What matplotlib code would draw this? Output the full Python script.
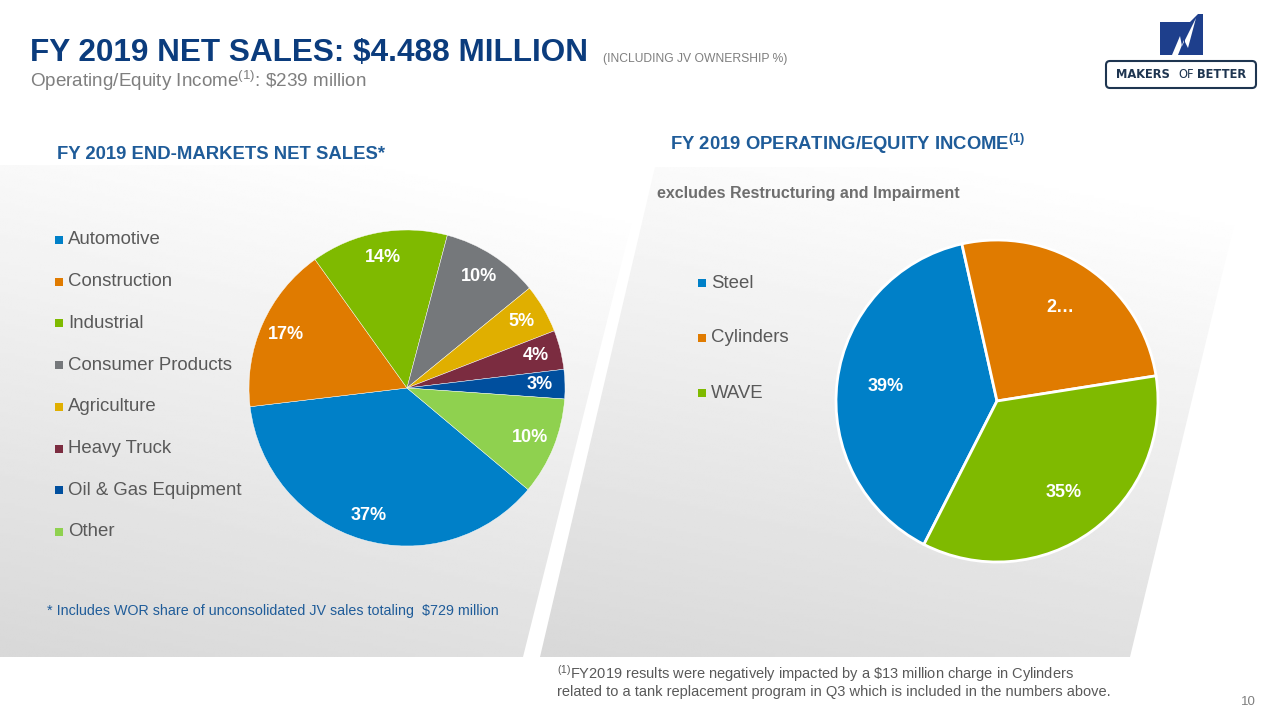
import numpy as np
import matplotlib
matplotlib.use("Agg")
import matplotlib.pyplot as plt
from matplotlib.patches import Polygon, Rectangle, FancyBboxPatch

plt.rcParams["font.family"] = ["Liberation Sans", "DejaVu Sans"]
plt.rcParams["mathtext.default"] = "regular"

# data
market_labels = ["Automotive", "Construction", "Industrial", "Consumer Products",
                 "Agriculture", "Heavy Truck", "Oil & Gas Equipment", "Other"]
market_share = [37, 17, 14, 10, 5, 4, 3, 10]
market_colors = ["#0080C8", "#E07B00", "#7FBA00", "#75787B",
                 "#E0AF00", "#7B2C40", "#004F9E", "#8FD14F"]

income_labels = ["Steel", "Cylinders", "WAVE"]
income_share = [39, 26, 35]
income_text = ["39%", "2…", "35%"]
income_colors = ["#0080C8", "#E07B00", "#7FBA00"]

NAVY = "#0B3C7D"
HEAD = "#1F5C99"
GRAY = "#7F7F7F"
LEG = "#595959"

W, H = 1280, 720
fig = plt.figure(figsize=(12.8, 7.2), dpi=100)
bg = fig.add_axes([0, 0, 1, 1])
bg.set_xlim(0, W)
bg.set_ylim(H, 0)
bg.axis("off")


def panel(pts):
    # gradient: white at top-right, light gray towards the bottom-left
    yy, xx = np.mgrid[0:1:200j, 0:1:200j]
    t = np.clip(0.85 * yy + 0.25 * (1 - xx) - 0.08, 0, 1)
    img = 1.0 - 0.15 * t
    xs = [p[0] for p in pts]
    ys = [p[1] for p in pts]
    im = bg.imshow(img, cmap="gray", vmin=0, vmax=1,
                   extent=[min(xs), max(xs), max(ys), min(ys)],
                   aspect="auto", zorder=0, interpolation="bilinear")
    poly = Polygon(pts, closed=True, facecolor="none", edgecolor="none")
    bg.add_patch(poly)
    im.set_clip_path(poly)


panel([(0, 165), (646, 165), (523, 657), (0, 657)])
panel([(655, 167), (1248, 167), (1130, 657), (540, 657)])
bg.set_xlim(0, W)
bg.set_ylim(H, 0)

# titles
bg.text(30, 61, "FY 2019 NET SALES: $4.488 MILLION", fontsize=22.7,
        fontweight="bold", color=NAVY, va="baseline")
bg.text(603, 62, "(INCLUDING JV OWNERSHIP %)", fontsize=8.7,
        color=GRAY, va="baseline")
bg.text(30, 87, r"Operating/Equity Income$^{(1)}$: \$239 million",
        fontsize=13.6, color=GRAY, va="baseline")

bg.text(57, 159, "FY 2019 END-MARKETS NET SALES*", fontsize=13.3,
        fontweight="bold", color=HEAD, va="baseline")
bg.text(670, 150, r"FY 2019 OPERATING/EQUITY INCOME$^{(1)}$",
        fontsize=13.3, fontweight="bold", color=HEAD, va="baseline")
bg.text(657, 198, "excludes Restructuring and Impairment", fontsize=11.5,
        fontweight="bold", color="#6E6E6E", va="baseline")

bg.text(47, 615, "* Includes WOR share of unconsolidated JV sales totaling  $729 million",
        fontsize=10.3, color=HEAD, va="baseline")
bg.text(557, 679, r"$^{(1)}$FY2019 results were negatively impacted by a \$13 million charge in Cylinders",
        fontsize=10.5, color=LEG, va="baseline")
bg.text(557, 696, "related to a tank replacement program in Q3 which is included in the numbers above.",
        fontsize=10.5, color=LEG, va="baseline")
bg.text(1256, 705, "10", fontsize=9.5, color=GRAY, va="baseline", ha="right")

# logo
bg.add_patch(Polygon([(1160, 22), (1190, 22), (1198, 14), (1203, 14), (1203, 55), (1160, 55)],
                     closed=True, facecolor="#1E3F8C", edgecolor="none"))
bg.add_patch(Polygon([(1172, 55), (1180, 36), (1182, 46), (1196, 18), (1188, 48), (1184, 40), (1178, 55)],
                     closed=True, facecolor="white", edgecolor="none"))
bg.add_patch(FancyBboxPatch((1106, 61), 150, 27, boxstyle="round,pad=0,rounding_size=4",
                            facecolor="white", edgecolor="#1E3550", linewidth=1.5))
for word, xc, wt in [("MAKERS", 1143, "bold"), ("OF", 1186, "normal"), ("BETTER", 1222, "bold")]:
    bg.text(xc, 75, word, fontsize=8.3, fontweight=wt, color="#1E3550",
            ha="center", va="center", family=["DejaVu Sans"])


def legend(x, y0, dy, labels, colors):
    for i, (lab, col) in enumerate(zip(labels, colors)):
        y = y0 + i * dy
        bg.add_patch(Rectangle((x, y - 4), 8, 8, facecolor=col, edgecolor="none"))
        bg.text(x + 13, y, lab, fontsize=13.4, color=LEG, va="center")


legend(55, 240, 41.7, market_labels, market_colors)
legend(698, 283, 55, income_labels, income_colors)


def pie(cx, cy, r, values, colors, texts, start, dist, lw):
    ax = fig.add_axes([(cx - r) / W, 1 - (cy + r) / H, 2 * r / W, 2 * r / H])
    wedges, _ = ax.pie(values, colors=colors, startangle=start, counterclock=False,
                       radius=1, wedgeprops={"edgecolor": "white", "linewidth": lw})
    for w, t in zip(wedges, texts):
        ang = np.deg2rad((w.theta1 + w.theta2) / 2)
        ax.text(dist * np.cos(ang), dist * np.sin(ang), t, ha="center", va="center",
                color="white", fontsize=13, fontweight="bold")
    ax.set_xlim(-1, 1)
    ax.set_ylim(-1, 1)
    ax.set_aspect("equal")
    ax.axis("off")


pie(407, 388, 158, market_share, market_colors,
    [f"{v}%" for v in market_share], -40, 0.84, 0.3)
pie(997, 401, 161, income_share, income_colors, income_text, -117, 0.7, 2)

fig.savefig("out.png", dpi=100)
